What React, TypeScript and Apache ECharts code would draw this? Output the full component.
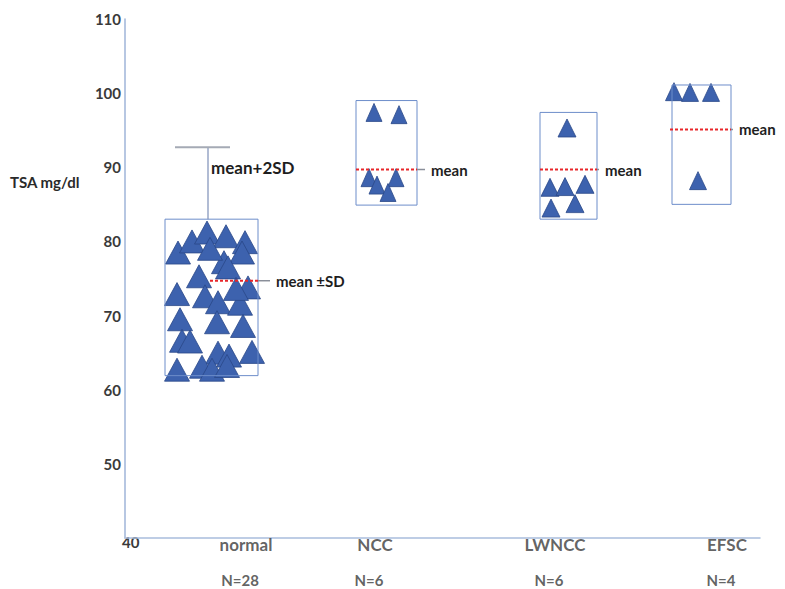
import React, { useEffect, useRef } from "react";
import * as echarts from "echarts";

// ---- data ----
const categories = ["normal", "NCC", "LWNCC", "EFSC"];
const counts = ["N=28", "N=6", "N=6", "N=4"];
const yTicks = [40, 50, 60, 70, 80, 90, 100, 110];

// individual TSA values (mg/dl) and horizontal jitter positions
const normalTSA = [78.5, 80.0, 81.2, 80.7, 79.9, 78.5, 77.2, 75.3, 76.5, 73.8, 72.9, 72.6, 71.8, 71.6, 69.5, 69.1, 68.6, 66.6, 66.5, 65.0, 64.6, 65.1, 62.7, 63.1, 62.7, 63.2, 73.6, 79.0];
const normalJitter = [53, 67, 82, 101, 120, 117, 99, 74, 103, 123, 52, 80, 93, 115, 55, 92, 118, 57, 65, 93, 104, 127, 52, 77, 87, 102, 111, 85];
const nccTSA = [97.4, 97.1, 88.6, 87.6, 88.6, 86.6];
const nccJitter = [249, 274, 244, 252, 271, 263];
const lwnccTSA = [95.3, 87.3, 87.4, 87.7, 84.5, 85.1];
const lwnccJitter = [442, 425, 440, 460, 426, 450];
const efscTSA = [100.2, 100.1, 100.1, 88.2];
const efscJitter = [549, 565, 586, 573];

// summary statistics
const means = [74.7, 89.7, 89.7, 95.1];
const sdLow = [61.9, 84.9, 83.0, 85.0];
const sdHigh = [83.0, 99.0, 97.4, 101.1];
const meanPlus2SD = 92.7;
const meanLabels = ["mean \u00B1SD", "mean", "mean", "mean"];

// ---- layout (x positions on a 0..635 axis) ----
const boxLeft = [40, 231, 415, 547];
const boxRight = [133, 292, 472, 606];
const meanStart = [85, 231, 415, 545];
const meanExt = [12, 8, 2, 2];
const labelX = [121, 250, 430, 602];
const whiskerX = 83;
const capLeft = 50;
const capRight = 105;

const FONT = "Lato";
const TRI = "#3d62ae";
const TRI_BORDER = "#2a4888";
const triSizes = [[25, 23], [16, 18], [18, 18], [17, 18]];

function App() {
  const ref = useRef<HTMLDivElement>(null);
  useEffect(() => {
    const chart = echarts.init(ref.current!, null, { renderer: "svg" });
    const pts = (xs: number[], ys: number[]) => xs.map((x, i) => [x, ys[i]]);
    const groups = [
      pts(normalJitter, normalTSA),
      pts(nccJitter, nccTSA),
      pts(lwnccJitter, lwnccTSA),
      pts(efscJitter, efscTSA),
    ];
    const boxData = categories.map((_, i) => [boxLeft[i], boxRight[i], sdLow[i], sdHigh[i], means[i], meanStart[i], meanExt[i]]);

    const scatterSeries = groups.map((g, i) => ({
      type: "scatter",
      name: categories[i],
      data: g,
      symbol: "triangle",
      symbolSize: triSizes[i],
      itemStyle: { color: TRI, borderColor: TRI_BORDER, borderWidth: 0.8, opacity: 1 },
      z: 3,
    }));

    const option: any = {
      animation: false,
      grid: { left: 125, right: 25, top: 19, bottom: 51, containLabel: false },
      xAxis: {
        type: "value",
        min: 0,
        max: 635,
        axisLine: { show: true, lineStyle: { color: "#a9bddd", width: 1.5 } },
        axisTick: { show: false },
        axisLabel: { show: false },
        splitLine: { show: false },
      },
      yAxis: {
        type: "value",
        min: yTicks[0],
        max: yTicks[yTicks.length - 1],
        interval: 10,
        axisLine: { show: true, lineStyle: { color: "#9fb5d8", width: 1.5 } },
        axisTick: { show: false },
        splitLine: { show: false },
        axisLabel: {
          margin: 4,
          fontFamily: FONT,
          fontWeight: "bold",
          fontSize: 15,
          color: "#3a3a3a",
          formatter: (v: number) => (v === yTicks[0] ? "" : String(v)),
        },
      },
      graphic: [
        { type: "text", left: 10, top: 174, style: { text: "TSA mg/dl", font: `bold 15px ${FONT}`, fill: "#2a2a2a" } },
        { type: "text", left: 122, top: 534, style: { text: String(yTicks[0]), font: `bold 15px ${FONT}`, fill: "#3a3a3a" } },
      ],
      series: [
        ...scatterSeries,
        {
          type: "custom",
          data: boxData,
          encode: { x: [0, 1], y: [2, 3] },
          z: 4,
          renderItem: (params: any, api: any) => {
            const i = params.dataIndex;
            const tl = api.coord([api.value(0), api.value(3)]);
            const br = api.coord([api.value(1), api.value(2)]);
            const m0 = api.coord([api.value(5), api.value(4)]);
            const m1 = api.coord([api.value(1), api.value(4)]);
            const ext = api.value(6);
            const children: any[] = [
              {
                type: "rect",
                shape: { x: tl[0], y: tl[1], width: br[0] - tl[0], height: br[1] - tl[1] },
                style: { fill: "none", stroke: "#6d8dca", lineWidth: 1 },
              },
              {
                type: "line",
                shape: { x1: m1[0], y1: m1[1], x2: m1[0] + ext, y2: m1[1] },
                style: { stroke: "#8a8f9a", lineWidth: 1.5 },
              },
              {
                type: "line",
                shape: { x1: m0[0], y1: m0[1], x2: m1[0], y2: m1[1] },
                style: { stroke: "#e8262a", lineWidth: 2, lineDash: [3, 2] },
              },
              {
                type: "text",
                x: m1[0] + ext + 6,
                y: m1[1],
                style: {
                  text: meanLabels[i],
                  font: `bold 15px ${FONT}`,
                  fill: "#1e1e1e",
                  verticalAlign: "middle",
                  align: "left",
                },
              },
            ];
            if (i === 0) {
              const wTop = api.coord([whiskerX, meanPlus2SD]);
              const wBot = api.coord([whiskerX, api.value(3)]);
              const cL = api.coord([capLeft, meanPlus2SD]);
              const cR = api.coord([capRight, meanPlus2SD]);
              children.push(
                { type: "line", shape: { x1: wTop[0], y1: wTop[1], x2: wBot[0], y2: wBot[1] }, style: { stroke: "#7d8fb8", lineWidth: 1.2 } },
                { type: "line", shape: { x1: cL[0], y1: cL[1], x2: cR[0], y2: cR[1] }, style: { stroke: "#a5aab5", lineWidth: 2 } },
                {
                  type: "text",
                  x: wTop[0] + 3,
                  y: wTop[1] + 20,
                  style: { text: "mean+2SD", font: `bold 17px ${FONT}`, fill: "#1e1e1e", verticalAlign: "middle", align: "left" },
                }
              );
            }
            return { type: "group", children };
          },
        },
        {
          type: "scatter",
          data: labelX.map((x) => [x, yTicks[0]]),
          symbolSize: 0,
          silent: true,
          label: {
            show: true,
            position: "inside",
            offset: [0, 6],
            formatter: (p: any) => categories[p.dataIndex],
            fontFamily: FONT,
            fontWeight: "bold",
            fontSize: 17,
            color: "#3a3a3a",
          },
        },
        {
          type: "scatter",
          data: labelX.map((x) => [x - 6, yTicks[0]]),
          symbolSize: 0,
          silent: true,
          label: {
            show: true,
            position: "inside",
            offset: [0, 42],
            formatter: (p: any) => counts[p.dataIndex],
            fontFamily: FONT,
            fontWeight: "bold",
            fontSize: 15,
            color: "#3a3a3a",
          },
        },
      ],
    };
    chart.setOption(option);
    return () => chart.dispose();
  }, []);
  return <div ref={ref} style={{ position: "fixed", left: 0, top: 0, width: 785, height: 589, background: "#fff" }} />;
}

export default App;
